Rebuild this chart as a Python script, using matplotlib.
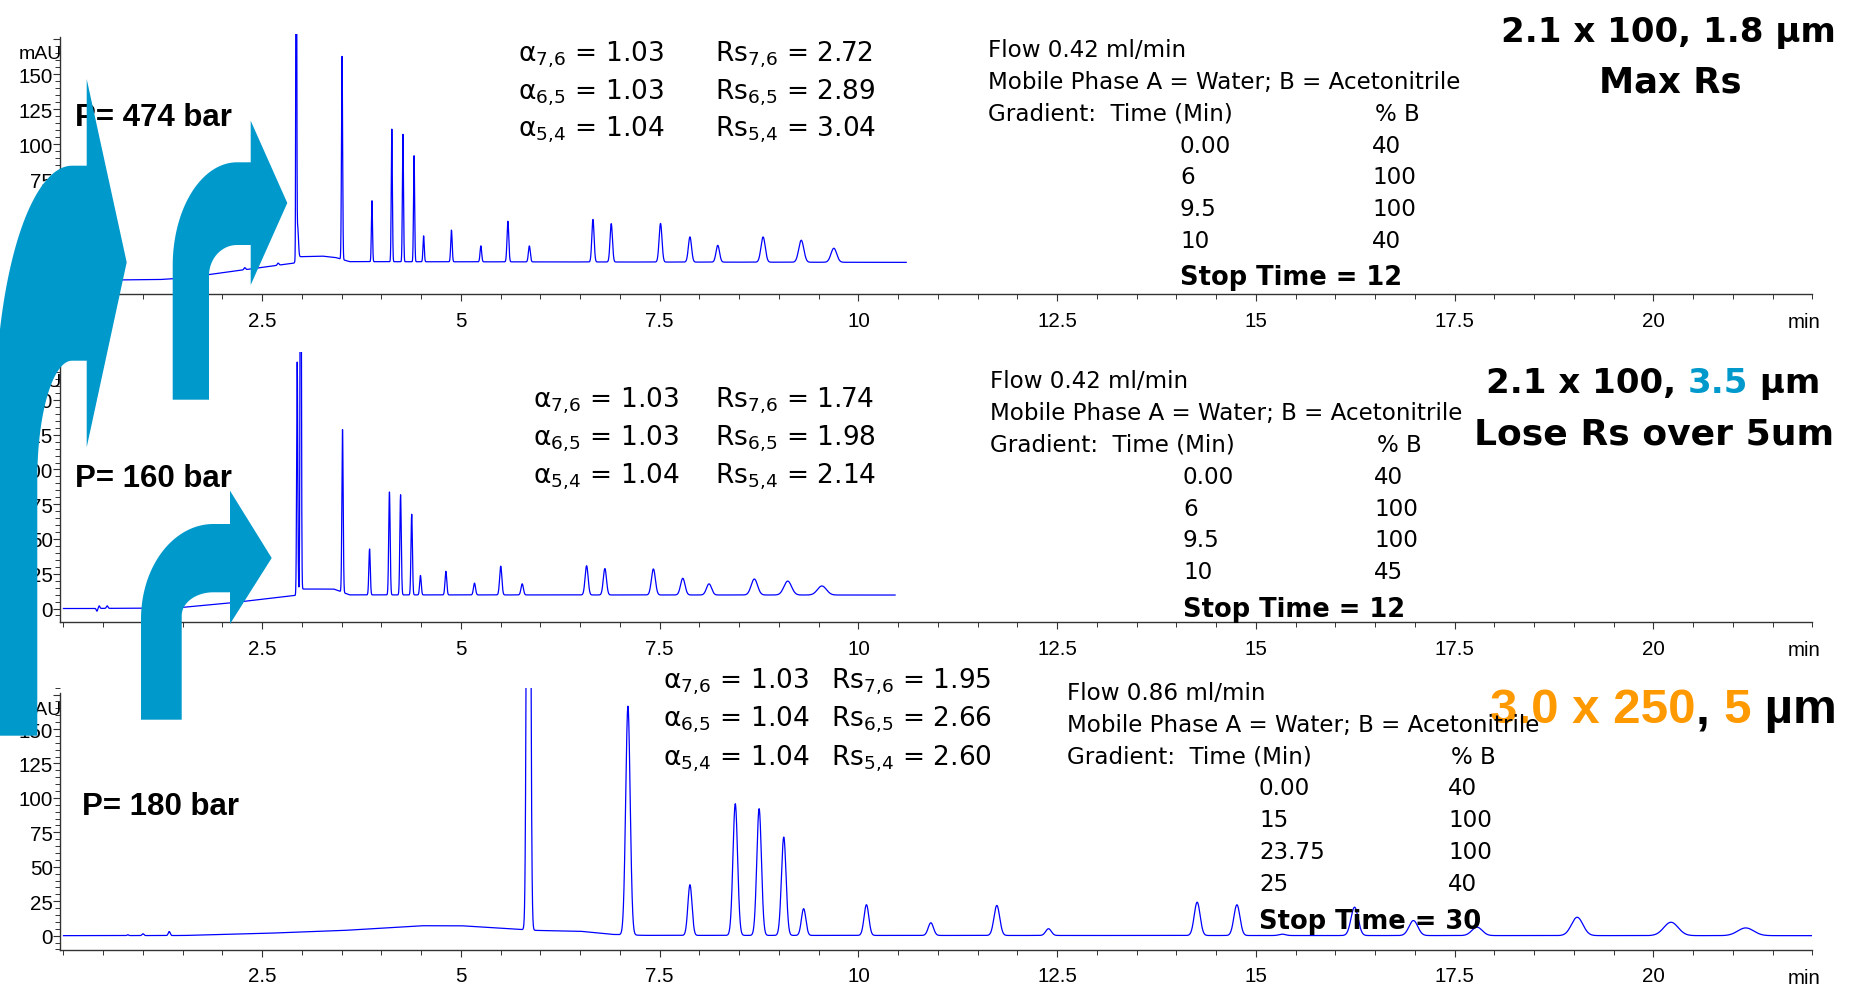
import numpy as np
import matplotlib
matplotlib.use('Agg')
import matplotlib.pyplot as plt
from matplotlib.patches import Polygon
from matplotlib.ticker import FixedLocator, MultipleLocator

# ---- chromatogram 1: 2.1 x 100, 1.8 um (474 bar) ----
p1_times = [2.28, 2.70, 2.928, 2.945, 3.504, 3.88, 4.13, 4.27, 4.41, 4.53, 4.88, 5.25, 5.59, 5.86,
            6.66, 6.89, 7.51, 7.88, 8.23, 8.80, 9.28, 9.69]
p1_heights = [1.5, 1.5, 400, 22, 145, 43.5, 94.7, 91, 75.7, 18.5, 22.6, 11.4, 29, 11.4,
              30.4, 27.4, 27.6, 18, 12, 18, 15.7, 10]
p1_widths = [0.01, 0.01, 0.005, 0.01, 0.007, 0.007, 0.007, 0.007, 0.007, 0.008, 0.009, 0.01, 0.011, 0.012,
             0.014, 0.015, 0.018, 0.02, 0.022, 0.027, 0.032, 0.036]
p1_base_t = [0, 1.2, 1.5, 2.25, 2.9, 2.95, 3.25, 3.42, 3.6, 10.6]
p1_base_y = [2.5, 3.2, 4.2, 10, 15, 19.5, 20, 19, 16, 15.5]
p1_end = 10.6

# ---- chromatogram 2: 2.1 x 100, 3.5 um (160 bar) ----
p2_times = [0.42, 0.45, 0.55, 2.94, 2.984, 3.51, 3.85, 4.10, 4.24, 4.38, 4.49, 4.81, 5.17, 5.50, 5.77,
            6.58, 6.81, 7.42, 7.79, 8.12, 8.69, 9.11, 9.54]
p2_heights = [-2, 1.8, 1.8, 167, 400, 117, 33, 74, 72, 58, 14, 17, 8.5, 20.7, 8,
              21, 19, 18.7, 12, 8, 11.5, 10, 6.5]
p2_widths = [0.008, 0.008, 0.01, 0.007, 0.007, 0.008, 0.009, 0.009, 0.009, 0.009, 0.01, 0.011, 0.013, 0.014, 0.015,
             0.019, 0.02, 0.025, 0.028, 0.032, 0.04, 0.048, 0.056]
p2_base_t = [0, 1.4, 2.1, 2.93, 2.99, 3.4, 3.6, 10.46]
p2_base_y = [0, 0.3, 4, 9.5, 14, 14, 9.8, 9.7]
p2_end = 10.46

# ---- chromatogram 3: 3.0 x 250, 5 um (180 bar) ----
p3_times = [0.81, 1.0, 1.33, 5.85, 7.10, 7.88, 8.45, 8.75, 9.06, 9.31, 10.10, 10.91, 11.74, 12.39,
            14.26, 14.76, 15.33, 16.24, 16.98, 17.78, 19.04, 20.22, 21.16]
p3_heights = [0.6, 1.3, 2.9, 900, 166, 36.8, 95.6, 92, 71.4, 19.4, 22.3, 9.2, 21.8, 4.9,
              24.2, 22.3, 1, 20.6, 10.9, 6.1, 13.3, 9.7, 5.6]
p3_widths = [0.01, 0.012, 0.012, 0.018, 0.028, 0.026, 0.029, 0.029, 0.029, 0.028, 0.03, 0.033, 0.036, 0.035,
             0.037, 0.038, 0.04, 0.045, 0.055, 0.065, 0.072, 0.09, 0.1]
p3_base_t = [0, 1.5, 2.5, 3.5, 4.5, 5.0, 5.6, 5.95, 6.5, 6.9, 7.3, 22]
p3_base_y = [0, 0.1, 1.6, 3.7, 7.2, 7.2, 5.0, 3.8, 3.2, 0.9, 0.2, 0]
p3_end = 22.0

# ---- annotations ----
pressures = ['474', '160', '180']
alpha_pairs = ['7,\\!6', '6,\\!5', '5,\\!4']
p1_alpha = ['1.03', '1.03', '1.04']
p1_rs = ['2.72', '2.89', '3.04']
p2_alpha = ['1.03', '1.03', '1.04']
p2_rs = ['1.74', '1.98', '2.14']
p3_alpha = ['1.03', '1.04', '1.04']
p3_rs = ['1.95', '2.66', '2.60']
flows = ['0.42', '0.42', '0.86']
p1_grad_time = ['0.00', '6', '9.5', '10']
p1_grad_b = ['40', '100', '100', '40']
p2_grad_time = ['0.00', '6', '9.5', '10']
p2_grad_b = ['40', '100', '100', '45']
p3_grad_time = ['0.00', '15', '23.75', '25']
p3_grad_b = ['40', '100', '100', '40']
stop_times = ['12', '12', '30']

x_major = [2.5, 5, 7.5, 10, 12.5, 15, 17.5, 20]
x_labels = ['2.5', '5', '7.5', '10', '12.5', '15', '17.5', '20']
y_major = [0, 25, 50, 75, 100, 125, 150, 175]
y_labels = ['0', '25', '50', '75', '100', '125', '150', '']

BLUE = '#0099CC'
ORANGE = '#FF9900'
TRACE = '#0000FF'
W, H = 1856, 987
TICKFONT = 'Liberation Sans'

plt.rcParams['font.family'] = 'DejaVu Sans'
plt.rcParams['mathtext.fontset'] = 'dejavusans'


def build_trace(base_t, base_y, times, heights, widths, t_end, step=0.001):
    t = np.arange(0, t_end + step, step)
    y = np.interp(t, base_t, base_y)
    for rt, h, w in zip(times, heights, widths):
        y = y + h * np.exp(-0.5 * ((t - rt) / w) ** 2)
    return t, y


fig = plt.figure(figsize=(W / 100, H / 100), dpi=100)

# pixel layout of the three panels: top, bottom, ylim, top of the y spine
left_px, right_px = 60.3, 1812.5
panels = [(35.0, 295.0, -7.1, 178.6, 38.3),
          (353.0, 623.0, -9.7, 184.5, 365.7),
          (688.7, 950.7, -10.2, 180.0, 694.0)]
series = [(p1_base_t, p1_base_y, p1_times, p1_heights, p1_widths, p1_end),
          (p2_base_t, p2_base_y, p2_times, p2_heights, p2_widths, p2_end),
          (p3_base_t, p3_base_y, p3_times, p3_heights, p3_widths, p3_end)]

for (top, bot, ymin, ymax, spine_top), data in zip(panels, series):
    ax = fig.add_axes([left_px / W, 1 - bot / H, (right_px - left_px) / W, (bot - top) / H])
    t, y = build_trace(*data)
    ax.plot(t, y, color=TRACE, lw=0.9)
    ax.set_xlim(-0.04, 22.0)
    ax.set_ylim(ymin, ymax)
    ax.patch.set_alpha(0)
    for s in ['top', 'right']:
        ax.spines[s].set_visible(False)
    for s in ['left', 'bottom']:
        ax.spines[s].set_color('#333333')
        ax.spines[s].set_linewidth(1.0)
    ax.spines['left'].set_bounds(ymin, (bot - spine_top) / (bot - top) * (ymax - ymin) + ymin)
    ax.xaxis.set_major_locator(FixedLocator(x_major))
    ax.set_xticklabels(x_labels)
    ax.xaxis.set_minor_locator(MultipleLocator(0.5))
    ax.yaxis.set_major_locator(FixedLocator(y_major))
    ax.set_yticklabels(y_labels)
    ax.yaxis.set_minor_locator(MultipleLocator(5))
    ax.tick_params(which='major', length=5, width=0.8, color='#333333', labelsize=14.8,
                   labelfontfamily=TICKFONT)
    ax.tick_params(which='minor', length=3.5, width=0.7, color='#333333')
    ax.tick_params(axis='x', which='major', pad=7)
    ax.tick_params(axis='y', which='major', pad=0.5)

# overlay in pixel coordinates for annotations and arrows
ov = fig.add_axes([0, 0, 1, 1])
ov.set_xlim(0, W)
ov.set_ylim(H, 0)
ov.axis('off')
ov.set_zorder(5)

for (top, bot, ymin, ymax, spine_top) in panels:
    ov.text(62, spine_top + 21, 'mAU', ha='right', va='baseline', fontsize=14,
            family=TICKFONT, zorder=3)
    ov.text(1804, bot + 33, 'min', ha='center', va='baseline', fontsize=14.8,
            family=TICKFONT, zorder=3)

# pressure labels
for p, (x, yb) in zip(pressures, [(75, 126), (75, 487.3), (82.5, 815)]):
    ov.text(x, yb, f'P= {p} bar', fontsize=22.5, fontweight='bold', family=TICKFONT,
            va='baseline', zorder=3)

# selectivity / resolution blocks
blocks = [(518, 715, [61.7, 99.0, 136.7], p1_alpha, p1_rs),
          (533, 715, [407.3, 445.7, 483.3], p2_alpha, p2_rs),
          (663, 831, [688.3, 726.7, 765.0], p3_alpha, p3_rs)]
for xa, xr, ybs, alphas, rss in blocks:
    for yb, pair, a, r in zip(ybs, alpha_pairs, alphas, rss):
        ov.text(xa, yb, 'α$_{' + pair + '}$ = ' + a, fontsize=19, va='baseline', zorder=3)
        ov.text(xr, yb, 'Rs$_{' + pair + '}$ = ' + r, fontsize=19, va='baseline', zorder=3)

# method conditions
methods = [(988, 1180, 1375, 57.3, 285.0, flows[0], p1_grad_time, p1_grad_b, stop_times[0]),
           (990.5, 1183, 1377, 388.3, 617.3, flows[1], p2_grad_time, p2_grad_b, stop_times[1]),
           (1067.3, 1259, 1451, 700.0, 929.3, flows[2], p3_grad_time, p3_grad_b, stop_times[2])]
LS = 31.8
for x0, xt, xb, y0, ystop, flow, gt, gb, stop in methods:
    fs = 16.6
    ov.text(x0, y0, f'Flow {flow} ml/min', fontsize=fs, va='baseline', zorder=3)
    ov.text(x0, y0 + LS, 'Mobile Phase A = Water; B = Acetonitrile', fontsize=fs,
            va='baseline', zorder=3)
    ov.text(x0, y0 + 2 * LS, 'Gradient:  Time (Min)', fontsize=fs, va='baseline', zorder=3)
    ov.text(xb, y0 + 2 * LS, '% B', fontsize=fs, va='baseline', zorder=3)
    for i, (tt, bb) in enumerate(zip(gt, gb)):
        ov.text(xt, y0 + (3 + i) * LS, tt, fontsize=fs, va='baseline', zorder=3)
        ov.text(xb - 3, y0 + (3 + i) * LS, bb, fontsize=fs, va='baseline', zorder=3)
    ov.text(xt, ystop, f'Stop Time = {stop}', fontsize=18.5, fontweight='bold',
            va='baseline', zorder=3)


def multicolor(x, y, pieces, **kw):
    t = ov.text(x, y, pieces[0][0], color=pieces[0][1], va='baseline', ha='left', **kw)
    for s, c in pieces[1:]:
        t = ov.annotate(s, xy=(1, 0), xycoords=t, va='bottom', ha='left', color=c, **kw)


# column titles
ov.text(1668, 41.7, '2.1 x 100, 1.8 µm', ha='center', va='baseline', fontsize=24.5,
        fontweight='bold', zorder=2)
ov.text(1670, 92.7, 'Max Rs', ha='center', va='baseline', fontsize=25.5, fontweight='bold', zorder=2)
multicolor(1486, 393.3, [('2.1 x 100, ', 'black'), ('3.5', BLUE), (' µm', 'black')],
           fontsize=24.5, fontweight='bold', zorder=2)
ov.text(1654, 444.3, 'Lose Rs over 5um', ha='center', va='baseline', fontsize=26,
        fontweight='bold', zorder=2)
multicolor(1490.5, 723.3, [('3.0 x 250', ORANGE), (', ', 'black'), ('5', ORANGE), (' µm', 'black')],
           fontsize=35.5, fontweight='bold', family=TICKFONT, zorder=1)


# bent arrows (shaft up, rounded corner, head pointing right)
def bent_arrow(sl, sr, sb, cx, at, ab, ocy, icy, hx, ht, hb, tipx, tipy):
    th = np.linspace(0, np.pi / 2, 60)
    outer = np.column_stack([cx - (cx - sl) * np.cos(th), ocy - (ocy - at) * np.sin(th)])
    thr = th[::-1]
    inner = np.column_stack([cx - (cx - sr) * np.cos(thr), icy - (icy - ab) * np.sin(thr)])
    pts = ([(sl, sb)] + outer.tolist() + [(hx, at), (hx, ht), (tipx, tipy), (hx, hb), (hx, ab)]
           + inner.tolist() + [(sr, sb)])
    ov.add_patch(Polygon(pts, closed=True, fc=BLUE, ec='none', zorder=10))


bent_arrow(-5, 37.3, 736.7, 72, 166.7, 361.7, 420, 480, 86.7, 80, 448.3, 126.7, 263.3)
bent_arrow(172.7, 209, 400.7, 237, 163.3, 246, 266.7, 276.7, 250.7, 121.7, 286, 287.3, 204)
bent_arrow(141, 181.7, 720.7, 213.3, 525, 593.3, 620, 616.7, 230, 491.7, 625, 271.7, 559)

fig.savefig('out.png', dpi=100)
